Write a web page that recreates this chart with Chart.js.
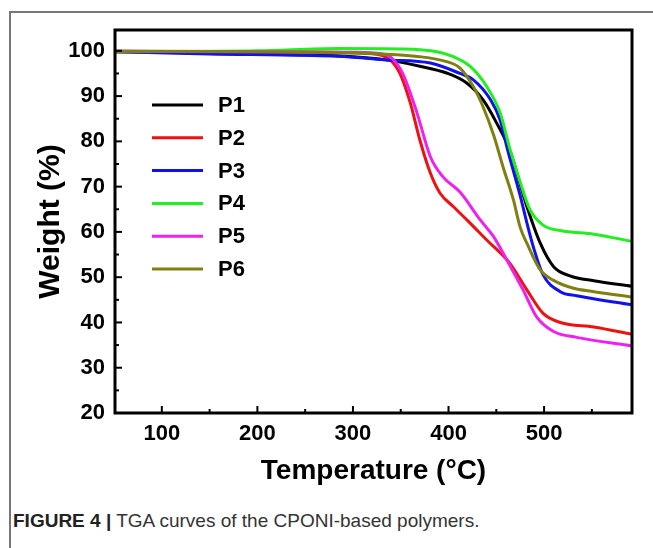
<!DOCTYPE html>
<html>
<head>
<meta charset="utf-8">
<script src="https://cdn.jsdelivr.net/npm/chart.js@4.4.1/dist/chart.umd.min.js"></script>
<style>
  html, body { margin: 0; padding: 0; background: #fff; overflow: hidden; }
  #page { position: relative; width: 653px; height: 548px; }
  #frame { position: absolute; left: 9px; top: 11px; width: 660px; height: 560px;
           border-left: 2px solid #777; border-top: 2px solid #777; }
  #chartBox { position: absolute; left: 0; top: 0; width: 653px; height: 500px; }
  #caption { position: absolute; left: 13px; top: 510px; font-family: "Liberation Sans", Arial, sans-serif;
             font-size: 19px; color: #333; white-space: nowrap; }
  #caption b { color: #222; }
</style>
</head>
<body>
<div id="page">
  <div id="frame"></div>
  <div id="chartBox"><canvas id="tga" width="653" height="500"></canvas></div>
  <div id="caption"><b>FIGURE 4 |</b> TGA curves of the CPONI-based polymers.</div>
</div>
<script>
// series labels and colours
const names = ["P1", "P2", "P3", "P4", "P5", "P6"];
const colors = ["#000000", "#ee1111", "#1111ee", "#22ee22", "#ee22ee", "#808010"];

// temperature (°C) / weight (%)
const p1T = [51, 150, 250, 300, 335, 370, 398, 419, 436, 450, 464, 482, 496, 510, 527, 552, 592];
const p1W = [99.8, 99.5, 99.1, 98.7, 98.0, 96.6, 95.1, 92.9, 89.2, 84.2, 78.1, 65.6, 57.5, 52.3, 50.3, 49.2, 48.0];

const p2T = [51, 200, 300, 330, 340, 349, 360, 370, 381, 391, 405, 420, 440, 464, 482, 499, 517, 552, 592];
const p2W = [99.9, 99.8, 99.6, 99.0, 97.8, 95.1, 88.5, 80.3, 73.0, 68.6, 65.6, 62.5, 58.2, 53.1, 47.2, 42.0, 40.0, 39.0, 37.4];

const p3T = [51, 150, 250, 300, 335, 381, 412, 426, 444, 454, 462, 475, 482, 489, 499, 517, 534, 592];
const p3W = [99.8, 99.3, 99.0, 98.6, 98.0, 97.3, 95.0, 93.6, 89.2, 84.7, 78.0, 68.0, 62.0, 56.5, 50.5, 46.8, 45.9, 43.9];

const p4T = [51, 200, 285, 350, 388, 405, 423, 440, 454, 464, 475, 485, 499, 517, 552, 592];
const p4W = [99.8, 100.0, 100.5, 100.4, 99.8, 98.7, 96.5, 92.1, 86.3, 78.5, 71.0, 65.0, 61.5, 60.3, 59.5, 57.9];

const p5T = [51, 200, 300, 330, 339, 352, 367, 381, 394, 412, 433, 447, 461, 478, 492, 510, 534, 592];
const p5W = [99.9, 99.8, 99.7, 99.3, 98.7, 95.0, 86.3, 76.6, 72.2, 68.8, 62.7, 59.0, 53.8, 47.2, 41.3, 38.0, 36.7, 34.8];

const p6T = [51, 200, 300, 370, 398, 412, 426, 436, 447, 457, 468, 475, 482, 496, 509, 530, 552, 592];
const p6W = [99.9, 99.8, 99.5, 98.7, 97.6, 96.2, 92.1, 87.7, 81.5, 74.4, 67.0, 61.0, 57.5, 51.6, 49.4, 47.6, 46.8, 45.6];

// axis ticks
const xTicks = [100, 200, 300, 400, 500];
const xMinor = [150, 250, 350, 450, 550];
const yTicks = [20, 30, 40, 50, 60, 70, 80, 90, 100];
const yMinor = [25, 35, 45, 55, 65, 75, 85, 95];

const allT = [p1T, p2T, p3T, p4T, p5T, p6T];
const allW = [p1W, p2W, p3W, p4W, p5W, p6W];

const FONT = "'Liberation Sans', Arial, sans-serif";

const datasets = names.map((n, i) => ({
  label: n,
  data: allT[i].map((t, k) => ({ x: t, y: allW[i][k] })),
  borderColor: colors[i],
  borderWidth: 3,
  pointRadius: 0,
  cubicInterpolationMode: "monotone",
  order: names.length - i
}));

// black frame + inward ticks
const framePlugin = {
  id: "frame",
  afterDatasetsDraw(chart) {
    const { ctx, chartArea: a, scales } = chart;
    ctx.save();
    ctx.strokeStyle = "#000";
    ctx.lineWidth = 2;
    const xs = scales.x, ys = scales.y;
    xTicks.forEach(v => { const p = xs.getPixelForValue(v); ctx.beginPath(); ctx.moveTo(p, a.bottom); ctx.lineTo(p, a.bottom - 7); ctx.stroke(); });
    xMinor.forEach(v => { const p = xs.getPixelForValue(v); ctx.beginPath(); ctx.moveTo(p, a.bottom); ctx.lineTo(p, a.bottom - 4); ctx.stroke(); });
    yTicks.forEach(v => { const p = ys.getPixelForValue(v); ctx.beginPath(); ctx.moveTo(a.left, p); ctx.lineTo(a.left + 7, p); ctx.stroke(); });
    yMinor.forEach(v => { const p = ys.getPixelForValue(v); ctx.beginPath(); ctx.moveTo(a.left, p); ctx.lineTo(a.left + 4, p); ctx.stroke(); });
    ctx.lineWidth = 3;
    ctx.strokeRect(a.left, a.top, a.right - a.left, a.bottom - a.top);

    // legend inside the plot
    ctx.font = "bold 22px " + FONT;
    ctx.textBaseline = "middle";
    chart.data.datasets.forEach((ds, i) => {
      const y = a.top + 75 + i * 32.8;
      ctx.strokeStyle = ds.borderColor;
      ctx.lineWidth = 3;
      ctx.beginPath(); ctx.moveTo(a.left + 37, y); ctx.lineTo(a.left + 88, y); ctx.stroke();
      ctx.fillStyle = "#000";
      ctx.fillText(ds.label, a.left + 103, y + 1);
    });
    ctx.restore();
  }
};

new Chart(document.getElementById("tga"), {
  type: "line",
  data: { datasets },
  plugins: [framePlugin],
  options: {
    responsive: false,
    animation: false,
    layout: { padding: { top: 30, right: 21, left: 0, bottom: 0 } },
    plugins: { legend: { display: false }, tooltip: { enabled: false } },
    scales: {
      x: {
        type: "linear", min: 51, max: 592,
        afterBuildTicks: s => { s.ticks = xTicks.map(v => ({ value: v })); },
        afterFit: s => { s.height = 87; },
        grid: { display: false, drawTicks: false },
        border: { display: false },
        ticks: { color: "#000", padding: 8, maxRotation: 0, font: { family: FONT, size: 22, weight: "bold" } },
        title: { display: true, text: "Temperature (\u00B0C)", color: "#000", padding: { top: 0, bottom: 12 },
                 font: { family: FONT, size: 28, weight: "bold" } }
      },
      y: {
        type: "linear", min: 20, max: 104.6,
        afterBuildTicks: s => { s.ticks = yTicks.map(v => ({ value: v })); },
        afterFit: s => { s.width = 115; },
        grid: { display: false, drawTicks: false },
        border: { display: false },
        ticks: { color: "#000", padding: 10, font: { family: FONT, size: 22, weight: "bold" } },
        title: { display: true, text: "Weight (%)", color: "#000", padding: { top: 33, bottom: 0 },
                 font: { family: FONT, size: 30, weight: "bold" } }
      }
    }
  }
});
</script>
</body>
</html>
